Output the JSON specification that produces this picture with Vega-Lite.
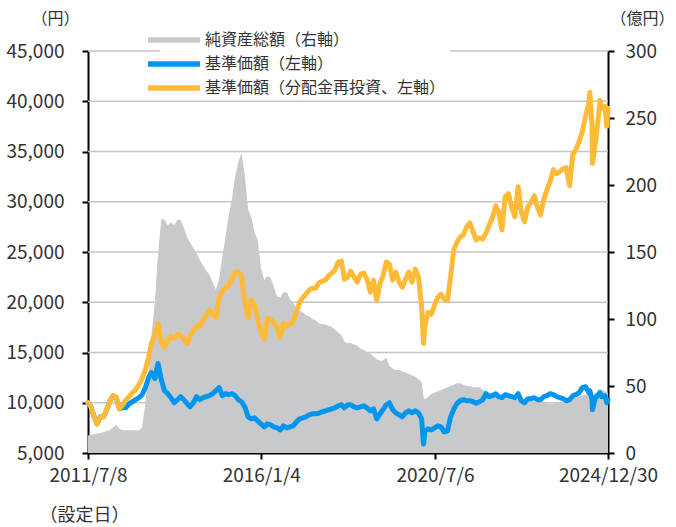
{
  "$schema": "https://vega.github.io/schema/vega-lite/v6.json",
  "width": 520,
  "height": 402,
  "autosize": "none",
  "padding": {"left": 88, "top": 51, "right": 68, "bottom": 74},
  "background": "white",
  "config": {
    "view": {"stroke": null},
    "font": "Noto Sans CJK JP"
  },
  "datasets": {
    "grid": [
      {"g": 10000}, {"g": 15000}, {"g": 20000}, {"g": 25000}, {"g": 30000}, {"g": 35000}, {"g": 40000}, {"g": 45000}
    ],
    "fund": [
      {"d": "2011-07-08", "n": 13, "b": 10000, "c": 10000},
      {"d": "2011-08-01", "n": 13.5, "b": 9700, "c": 9700},
      {"d": "2011-09-01", "n": 14, "b": 8700, "c": 8700},
      {"d": "2011-10-01", "n": 14.5, "b": 7900, "c": 7900},
      {"d": "2011-11-01", "n": 15, "b": 8600, "c": 8600},
      {"d": "2011-12-01", "n": 15.5, "b": 8600, "c": 8600},
      {"d": "2012-01-01", "n": 16.5, "b": 9300, "c": 9300},
      {"d": "2012-02-01", "n": 17, "b": 10200, "c": 10200},
      {"d": "2012-03-01", "n": 19, "b": 10700, "c": 10700},
      {"d": "2012-04-01", "n": 21, "b": 10500, "c": 10500},
      {"d": "2012-05-01", "n": 18, "b": 9400, "c": 9400},
      {"d": "2012-06-01", "n": 17, "b": 9500, "c": 9800},
      {"d": "2012-07-01", "n": 17, "b": 9500, "c": 10300},
      {"d": "2012-08-01", "n": 17, "b": 9900, "c": 10600},
      {"d": "2012-09-01", "n": 17, "b": 10100, "c": 11000},
      {"d": "2012-10-01", "n": 17, "b": 10300, "c": 11300},
      {"d": "2012-11-01", "n": 17, "b": 10500, "c": 11800},
      {"d": "2012-12-01", "n": 19, "b": 10800, "c": 12400},
      {"d": "2013-01-01", "n": 37, "b": 11500, "c": 13300},
      {"d": "2013-02-01", "n": 62, "b": 12500, "c": 14500},
      {"d": "2013-03-01", "n": 89, "b": 13000, "c": 16000},
      {"d": "2013-04-01", "n": 112, "b": 12400, "c": 16700},
      {"d": "2013-05-01", "n": 148, "b": 13900, "c": 17900},
      {"d": "2013-06-01", "n": 175, "b": 12300, "c": 16000},
      {"d": "2013-07-01", "n": 174, "b": 11200, "c": 15500},
      {"d": "2013-08-01", "n": 170, "b": 10900, "c": 16300},
      {"d": "2013-09-01", "n": 172, "b": 10500, "c": 16600},
      {"d": "2013-10-01", "n": 170, "b": 10000, "c": 16400},
      {"d": "2013-11-01", "n": 174, "b": 10300, "c": 16800},
      {"d": "2013-12-01", "n": 174, "b": 10600, "c": 16700},
      {"d": "2014-01-01", "n": 168, "b": 10300, "c": 16300},
      {"d": "2014-02-01", "n": 161, "b": 9900, "c": 15900},
      {"d": "2014-03-01", "n": 157, "b": 9600, "c": 16600},
      {"d": "2014-04-01", "n": 153, "b": 10000, "c": 17200},
      {"d": "2014-05-01", "n": 149, "b": 10600, "c": 17600},
      {"d": "2014-06-01", "n": 144, "b": 10300, "c": 17600},
      {"d": "2014-07-01", "n": 140, "b": 10500, "c": 18200},
      {"d": "2014-08-01", "n": 136, "b": 10600, "c": 18700},
      {"d": "2014-09-01", "n": 133, "b": 10700, "c": 19200},
      {"d": "2014-10-01", "n": 127, "b": 10900, "c": 18800},
      {"d": "2014-11-01", "n": 122, "b": 11200, "c": 18500},
      {"d": "2014-12-01", "n": 130, "b": 11500, "c": 20500},
      {"d": "2015-01-01", "n": 147, "b": 10700, "c": 21100},
      {"d": "2015-02-01", "n": 162, "b": 10900, "c": 21500},
      {"d": "2015-03-01", "n": 177, "b": 10800, "c": 21600},
      {"d": "2015-04-01", "n": 190, "b": 10900, "c": 22300},
      {"d": "2015-05-01", "n": 206, "b": 10700, "c": 23000},
      {"d": "2015-06-01", "n": 217, "b": 10300, "c": 23000},
      {"d": "2015-07-01", "n": 224, "b": 10100, "c": 22600},
      {"d": "2015-08-01", "n": 207, "b": 9600, "c": 20000},
      {"d": "2015-09-01", "n": 182, "b": 8600, "c": 18500},
      {"d": "2015-10-01", "n": 176, "b": 8400, "c": 20200},
      {"d": "2015-11-01", "n": 165, "b": 8500, "c": 19800},
      {"d": "2015-12-01", "n": 159, "b": 8200, "c": 18200},
      {"d": "2016-01-01", "n": 138, "b": 7900, "c": 17000},
      {"d": "2016-02-01", "n": 129, "b": 7600, "c": 16300},
      {"d": "2016-03-01", "n": 132, "b": 7900, "c": 18400},
      {"d": "2016-04-01", "n": 131, "b": 7800, "c": 18300},
      {"d": "2016-05-01", "n": 124, "b": 7600, "c": 18000},
      {"d": "2016-06-01", "n": 117, "b": 7500, "c": 17500},
      {"d": "2016-07-01", "n": 116, "b": 7300, "c": 16500},
      {"d": "2016-08-01", "n": 120, "b": 7700, "c": 17900},
      {"d": "2016-09-01", "n": 120, "b": 7500, "c": 17600},
      {"d": "2016-10-01", "n": 115, "b": 7600, "c": 17800},
      {"d": "2016-11-01", "n": 112, "b": 7700, "c": 18100},
      {"d": "2016-12-01", "n": 108, "b": 8100, "c": 19000},
      {"d": "2017-01-01", "n": 106, "b": 8400, "c": 20000},
      {"d": "2017-02-01", "n": 105, "b": 8500, "c": 20500},
      {"d": "2017-03-01", "n": 103, "b": 8600, "c": 20800},
      {"d": "2017-04-01", "n": 102, "b": 8800, "c": 21200},
      {"d": "2017-05-01", "n": 100, "b": 8900, "c": 21400},
      {"d": "2017-06-01", "n": 99, "b": 8900, "c": 21400},
      {"d": "2017-07-01", "n": 97, "b": 8950, "c": 21900},
      {"d": "2017-08-01", "n": 96, "b": 9100, "c": 22100},
      {"d": "2017-09-01", "n": 96, "b": 9200, "c": 22200},
      {"d": "2017-10-01", "n": 95, "b": 9300, "c": 22600},
      {"d": "2017-11-01", "n": 94, "b": 9400, "c": 22900},
      {"d": "2017-12-01", "n": 92, "b": 9500, "c": 23200},
      {"d": "2018-01-01", "n": 90, "b": 9700, "c": 24000},
      {"d": "2018-02-01", "n": 88, "b": 9800, "c": 24100},
      {"d": "2018-03-01", "n": 83, "b": 9500, "c": 22300},
      {"d": "2018-04-01", "n": 82, "b": 9800, "c": 22500},
      {"d": "2018-05-01", "n": 82, "b": 9800, "c": 23100},
      {"d": "2018-06-01", "n": 81, "b": 9600, "c": 22500},
      {"d": "2018-07-01", "n": 80, "b": 9500, "c": 22000},
      {"d": "2018-08-01", "n": 78, "b": 9600, "c": 22800},
      {"d": "2018-09-01", "n": 77, "b": 9700, "c": 22900},
      {"d": "2018-10-01", "n": 75, "b": 9500, "c": 22300},
      {"d": "2018-11-01", "n": 74, "b": 9200, "c": 21000},
      {"d": "2018-12-01", "n": 72, "b": 9400, "c": 22200},
      {"d": "2019-01-01", "n": 70, "b": 8400, "c": 20200},
      {"d": "2019-02-01", "n": 69, "b": 8900, "c": 21900},
      {"d": "2019-03-01", "n": 69, "b": 9300, "c": 22600},
      {"d": "2019-04-01", "n": 71, "b": 9800, "c": 24000},
      {"d": "2019-05-01", "n": 65, "b": 10000, "c": 23800},
      {"d": "2019-06-01", "n": 63, "b": 9300, "c": 22200},
      {"d": "2019-07-01", "n": 62, "b": 9000, "c": 23000},
      {"d": "2019-08-01", "n": 62, "b": 8800, "c": 22000},
      {"d": "2019-09-01", "n": 61, "b": 8600, "c": 21500},
      {"d": "2019-10-01", "n": 60, "b": 9000, "c": 22300},
      {"d": "2019-11-01", "n": 59, "b": 9200, "c": 23000},
      {"d": "2019-12-01", "n": 58, "b": 9000, "c": 22000},
      {"d": "2020-01-01", "n": 57, "b": 9200, "c": 23300},
      {"d": "2020-02-01", "n": 55, "b": 9000, "c": 22500},
      {"d": "2020-03-01", "n": 53, "b": 8400, "c": 19500},
      {"d": "2020-03-19", "n": 42, "b": 5900, "c": 15900},
      {"d": "2020-04-01", "n": 40, "b": 7200, "c": 17600},
      {"d": "2020-05-01", "n": 42, "b": 7400, "c": 19000},
      {"d": "2020-06-01", "n": 44, "b": 7300, "c": 18800},
      {"d": "2020-07-01", "n": 45, "b": 7500, "c": 19700},
      {"d": "2020-08-01", "n": 46, "b": 7700, "c": 20500},
      {"d": "2020-09-01", "n": 47, "b": 7600, "c": 20800},
      {"d": "2020-10-01", "n": 48, "b": 7100, "c": 20300},
      {"d": "2020-11-01", "n": 49, "b": 7200, "c": 20200},
      {"d": "2020-12-01", "n": 50, "b": 8600, "c": 22600},
      {"d": "2021-01-01", "n": 51, "b": 9400, "c": 25300},
      {"d": "2021-02-01", "n": 52, "b": 9950, "c": 26000},
      {"d": "2021-03-01", "n": 52, "b": 10200, "c": 26500},
      {"d": "2021-04-01", "n": 51, "b": 10300, "c": 26700},
      {"d": "2021-05-01", "n": 50, "b": 10200, "c": 27500},
      {"d": "2021-06-01", "n": 50, "b": 10200, "c": 27900},
      {"d": "2021-07-01", "n": 49, "b": 10100, "c": 27000},
      {"d": "2021-08-01", "n": 49, "b": 9950, "c": 26200},
      {"d": "2021-09-01", "n": 49, "b": 10100, "c": 26400},
      {"d": "2021-10-01", "n": 47, "b": 10300, "c": 26300},
      {"d": "2021-11-01", "n": 46, "b": 10900, "c": 26900},
      {"d": "2021-12-01", "n": 45, "b": 10600, "c": 27700},
      {"d": "2022-01-01", "n": 44.5, "b": 10700, "c": 28400},
      {"d": "2022-02-01", "n": 44, "b": 10900, "c": 29600},
      {"d": "2022-03-01", "n": 43, "b": 10600, "c": 29000},
      {"d": "2022-04-01", "n": 43, "b": 10500, "c": 27200},
      {"d": "2022-05-01", "n": 42, "b": 10800, "c": 30500},
      {"d": "2022-06-01", "n": 41, "b": 10700, "c": 30800},
      {"d": "2022-07-01", "n": 40, "b": 10600, "c": 29500},
      {"d": "2022-08-01", "n": 40, "b": 10500, "c": 28500},
      {"d": "2022-09-01", "n": 40, "b": 10900, "c": 31500},
      {"d": "2022-10-01", "n": 39.5, "b": 10200, "c": 29000},
      {"d": "2022-11-01", "n": 39, "b": 10000, "c": 28000},
      {"d": "2022-12-01", "n": 39, "b": 10400, "c": 29500},
      {"d": "2023-01-01", "n": 39, "b": 10400, "c": 29900},
      {"d": "2023-02-01", "n": 38.5, "b": 10500, "c": 30600},
      {"d": "2023-03-01", "n": 38, "b": 10300, "c": 29500},
      {"d": "2023-04-01", "n": 38, "b": 10300, "c": 28700},
      {"d": "2023-05-01", "n": 37.5, "b": 10600, "c": 30200},
      {"d": "2023-06-01", "n": 37, "b": 10700, "c": 31200},
      {"d": "2023-07-01", "n": 37, "b": 10900, "c": 32000},
      {"d": "2023-08-01", "n": 37, "b": 10800, "c": 33200},
      {"d": "2023-09-01", "n": 37.5, "b": 10600, "c": 32800},
      {"d": "2023-10-01", "n": 38, "b": 10500, "c": 33000},
      {"d": "2023-11-01", "n": 38.5, "b": 10400, "c": 33300},
      {"d": "2023-12-01", "n": 39, "b": 10200, "c": 33400},
      {"d": "2024-01-01", "n": 40, "b": 10300, "c": 31600},
      {"d": "2024-02-01", "n": 41, "b": 10700, "c": 34700},
      {"d": "2024-03-01", "n": 41.5, "b": 10800, "c": 35200},
      {"d": "2024-04-01", "n": 42, "b": 11000, "c": 36000},
      {"d": "2024-05-01", "n": 43, "b": 11500, "c": 37000},
      {"d": "2024-06-01", "n": 43.5, "b": 11600, "c": 38500},
      {"d": "2024-07-01", "n": 44, "b": 11000, "c": 39800},
      {"d": "2024-07-11", "n": 45, "b": 11200, "c": 40900},
      {"d": "2024-08-01", "n": 44, "b": 10300, "c": 37500},
      {"d": "2024-08-05", "n": 43, "b": 9300, "c": 33800},
      {"d": "2024-09-01", "n": 45, "b": 10500, "c": 35800},
      {"d": "2024-10-01", "n": 47, "b": 10800, "c": 38500},
      {"d": "2024-10-15", "n": 48, "b": 11000, "c": 40100},
      {"d": "2024-11-01", "n": 47, "b": 10600, "c": 39300},
      {"d": "2024-12-01", "n": 46, "b": 10700, "c": 39500},
      {"d": "2024-12-18", "n": 45, "b": 10000, "c": 37500},
      {"d": "2024-12-30", "n": 45, "b": 10300, "c": 39300}
    ]
  },
  "layer": [
    {
      "data": {"name": "grid"},
      "mark": {"type": "rule", "color": "#c4c4c4", "strokeWidth": 1.5, "opacity": 1},
      "encoding": {
        "x": {"datum": {"year": 2011, "month": 7, "date": 8, "utc": true}, "type": "temporal"},
        "x2": {"datum": {"year": 2024, "month": 12, "date": 30, "utc": true}},
        "y": {"field": "g", "type": "quantitative", "scale": {"domain": [5000, 45000], "nice": false, "zero": false}, "axis": null}
      }
    },
    {
      "data": {"name": "fund"},
      "mark": {"type": "area", "color": "#c8c9ca", "opacity": 1},
      "encoding": {
        "x": {
          "field": "d", "type": "temporal",
          "scale": {"type": "utc", "domain": [{"year": 2011, "month": 7, "date": 8, "utc": true}, {"year": 2024, "month": 12, "date": 30, "utc": true}]},
          "axis": {
            "orient": "bottom",
            "values": [{"year": 2011, "month": 7, "date": 8, "utc": true}, {"year": 2016, "month": 1, "date": 4, "utc": true}, {"year": 2020, "month": 7, "date": 6, "utc": true}, {"year": 2024, "month": 12, "date": 30, "utc": true}],
            "labelExpr": "utcFormat(datum.value, '%Y/%-m/%-d')",
            "labelFlush": false, "labelOverlap": false, "grid": false,
            "domainColor": "#000000", "domainWidth": 2, "tickColor": "#000000", "tickWidth": 2, "tickSize": 6,
            "labelFontSize": 19, "labelColor": "#333333", "labelPadding": 7,
            "title": "（設定日）", "titleFontSize": 18, "titleFontWeight": "normal", "titleColor": "#333333",
            "titleX": -4, "titleY": 62, "titleAlign": "center", "titleBaseline": "middle"
          }
        },
        "y": {
          "field": "n", "type": "quantitative",
          "scale": {"domain": [0, 300], "nice": false, "zero": true},
          "axis": {
            "orient": "right", "values": [0, 50, 100, 150, 200, 250, 300], "grid": false,
            "domainColor": "#000000", "domainWidth": 2, "tickColor": "#000000", "tickWidth": 2, "tickSize": 6,
            "labelFontSize": 19, "labelColor": "#333333", "labelPadding": 11,
            "title": "（億円）", "titleAngle": 0, "titleFontSize": 16, "titleFontWeight": "normal", "titleColor": "#333333",
            "titleX": 34, "titleY": -33, "titleAlign": "center", "titleBaseline": "middle"
          }
        },
        "color": {
          "datum": "純資産総額（右軸）",
          "scale": {"domain": ["純資産総額（右軸）", "基準価額（左軸）", "基準価額（分配金再投資、左軸）"], "range": ["#c8c9ca", "#0096f0", "#ffbb38"]},
          "legend": {
            "orient": "none", "legendX": 72, "legendY": -25, "title": null,
            "fillColor": "white", "padding": 4, "labelLimit": 0,
            "symbolType": "M-2.6,-0.28H2.6V0.28H-2.6Z", "symbolSize": 400, "symbolStrokeWidth": 0,
            "labelFontSize": 16, "labelColor": "#333333", "labelOffset": 21, "rowPadding": 6
          }
        }
      }
    },
    {
      "data": {"name": "fund"},
      "mark": {"type": "line", "strokeWidth": 5, "strokeCap": "round", "strokeJoin": "round"},
      "encoding": {
        "x": {"field": "d", "type": "temporal"},
        "y": {
          "field": "b", "type": "quantitative",
          "scale": {"domain": [5000, 45000], "nice": false, "zero": false},
          "axis": {
            "orient": "left", "values": [5000, 10000, 15000, 20000, 25000, 30000, 35000, 40000, 45000], "format": ",.0f",
            "grid": false,
            "domainColor": "#000000", "domainWidth": 2, "tickColor": "#000000", "tickWidth": 2, "tickSize": 6,
            "labelFontSize": 19, "labelColor": "#333333", "labelPadding": 18,
            "title": "（円）", "titleAngle": 0, "titleFontSize": 16, "titleFontWeight": "normal", "titleColor": "#333333",
            "titleX": -33, "titleY": -33, "titleAlign": "center", "titleBaseline": "middle"
          }
        },
        "color": {"datum": "基準価額（左軸）"}
      }
    },
    {
      "data": {"name": "fund"},
      "mark": {"type": "line", "strokeWidth": 5, "strokeCap": "round", "strokeJoin": "round"},
      "encoding": {
        "x": {"field": "d", "type": "temporal"},
        "y": {
          "field": "c", "type": "quantitative",
          "scale": {"domain": [5000, 45000], "nice": false, "zero": false},
          "axis": null
        },
        "color": {"datum": "基準価額（分配金再投資、左軸）"}
      }
    }
  ],
  "resolve": {"scale": {"y": "independent"}}
}
